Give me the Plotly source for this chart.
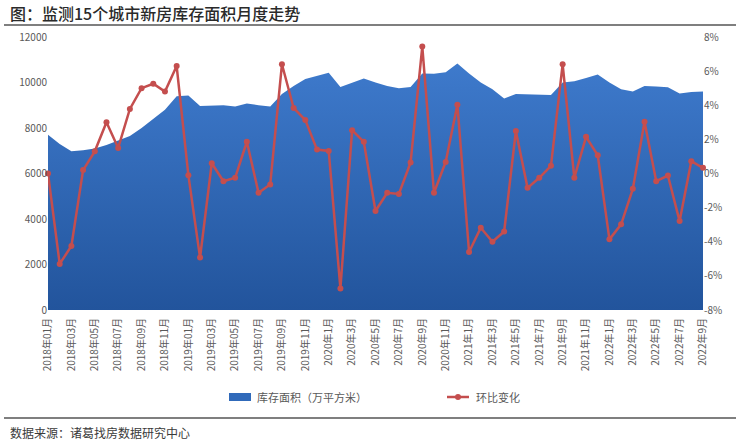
import plotly.graph_objects as go

months = (
    ["2018年%02d月" % m for m in range(1, 13)]
    + ["2019年%02d月" % m for m in range(1, 13)]
    + ["2020年%d月" % m for m in range(1, 13)]
    + ["2021年%d月" % m for m in range(1, 13)]
    + ["2022年%d月" % m for m in range(1, 10)]
)

inventory = [
    7700, 7300, 6980, 7020, 7100, 7250, 7450, 7650, 8000, 8400, 8800, 9400,
    9430, 8970, 9000, 9000, 8950, 9080, 9000, 8950, 9500, 9850, 10150, 10300,
    10430, 9800, 10000, 10180, 10000, 9850, 9750, 9800, 10400, 10380, 10450, 10830,
    10400, 10000, 9700, 9300, 9500, 9480, 9450, 9450, 10000, 10050, 10200, 10350,
    10000, 9700, 9600, 9850, 9820, 9790, 9520, 9580, 9600,
]

mom_change = [
    0.0, -5.3, -4.25, 0.2, 1.3, 3.0, 1.5, 3.78, 5.0, 5.26, 4.8, 6.3,
    -0.1, -4.93, 0.6, -0.45, -0.25, 1.86, -1.13, -0.64, 6.4, 3.84, 3.13, 1.4,
    1.32, -6.74, 2.54, 1.86, -2.2, -1.13, -1.2, 0.65, 7.44, -1.13, 0.68, 4.03,
    -4.6, -3.18, -4.0, -3.4, 2.49, -0.84, -0.25, 0.45, 6.4, -0.25, 2.15, 1.07,
    -3.86, -2.98, -0.9, 3.03, -0.45, -0.12, -2.79, 0.72, 0.33,
]

left_ticks = [0, 2000, 4000, 6000, 8000, 10000, 12000]
left_labels = [str(v) for v in left_ticks]
right_ticks = [-8, -6, -4, -2, 0, 2, 4, 6, 8]
right_labels = ["%d%%" % v for v in right_ticks]

title_text = "图：监测15个城市新房库存面积月度走势"
source_text = "数据来源：诸葛找房数据研究中心"
name_area = "库存面积（万平方米）"
name_line = "环比变化"

FONT = "Noto Sans CJK SC"
BLUE_TOP = "rgb(62,122,204)"
BLUE_BOT = "rgb(34,84,156)"
RED = "rgb(196,78,78)"

fig = go.Figure()
fig.add_trace(go.Scatter(
    x=months, y=inventory, name=name_area, mode="lines",
    line=dict(width=0, color=BLUE_TOP), fill="tozeroy",
    fillgradient=dict(type="vertical", colorscale=[[0, BLUE_BOT], [1, BLUE_TOP]]),
    showlegend=False, hoverinfo="skip",
))
fig.add_trace(go.Scatter(
    x=months, y=mom_change, name=name_line, mode="lines+markers", yaxis="y2",
    line=dict(width=2.5, color=RED), marker=dict(size=6, color=RED),
    cliponaxis=False, showlegend=False, hoverinfo="skip",
))

W, H = 740, 440
L, R, T, B = 48, 703, 37, 310

def px(x):
    return (x - L) / (R - L)

def py(y):
    return (B - y) / (B - T)

shapes = [
    dict(type="line", xref="paper", yref="paper", x0=px(4), x1=px(736), y0=py(25), y1=py(25),
         line=dict(color="#555555", width=1.5)),
    dict(type="line", xref="paper", yref="paper", x0=px(4), x1=px(736), y0=py(418), y1=py(418),
         line=dict(color="#555555", width=1.5)),
    dict(type="rect", xref="paper", yref="paper", x0=px(229), x1=px(251), y0=py(393), y1=py(401),
         fillcolor="rgb(48,106,186)", line=dict(width=0)),
    dict(type="line", xref="paper", yref="paper", x0=px(447), x1=px(469), y0=py(397), y1=py(397),
         line=dict(color=RED, width=2.5)),
    dict(type="circle", xref="paper", yref="paper", x0=px(455), x1=px(461), y0=py(394), y1=py(400),
         fillcolor=RED, line=dict(width=0)),
]

annotations = [
    dict(text=title_text, xref="paper", yref="paper", x=px(8), y=py(13), xanchor="left",
         yanchor="middle", showarrow=False,
         font=dict(family=FONT, size=16, color="#2a2a2a", weight=500)),
    dict(text=source_text, xref="paper", yref="paper", x=px(8), y=py(432), xanchor="left",
         yanchor="middle", showarrow=False, font=dict(family=FONT, size=12, color="#3a3a3a")),
    dict(text=name_area, xref="paper", yref="paper", x=px(255), y=py(397), xanchor="left",
         yanchor="middle", showarrow=False, font=dict(family=FONT, size=11, color="#595959")),
    dict(text=name_line, xref="paper", yref="paper", x=px(474), y=py(397), xanchor="left",
         yanchor="middle", showarrow=False, font=dict(family=FONT, size=11, color="#595959")),
]

fig.update_layout(
    width=W, height=H,
    margin=dict(l=L, r=W - R, t=T, b=H - B, pad=0),
    paper_bgcolor="white", plot_bgcolor="white",
    font=dict(family=FONT, size=10, color="#595959"),
    xaxis=dict(type="category", range=[0, len(months) - 1], tickangle=-90,
               tickvals=months[::2], ticktext=months[::2], showgrid=False,
               zeroline=False, showline=False, ticks="", tickfont=dict(size=10),
               ticklabelstandoff=5),
    yaxis=dict(range=[0, 12000], tickvals=left_ticks, ticktext=left_labels, showgrid=False,
               zeroline=False, showline=False, ticks="", tickfont=dict(size=10)),
    yaxis2=dict(range=[-8, 8], overlaying="y", side="right", tickvals=right_ticks,
                ticktext=right_labels, showgrid=False, zeroline=False, showline=False,
                ticks="", tickfont=dict(size=10)),
    shapes=shapes, annotations=annotations, showlegend=False,
)

fig.write_html("out.html", config={"displayModeBar": False},
               post_script="document.body.style.margin='0px';")
